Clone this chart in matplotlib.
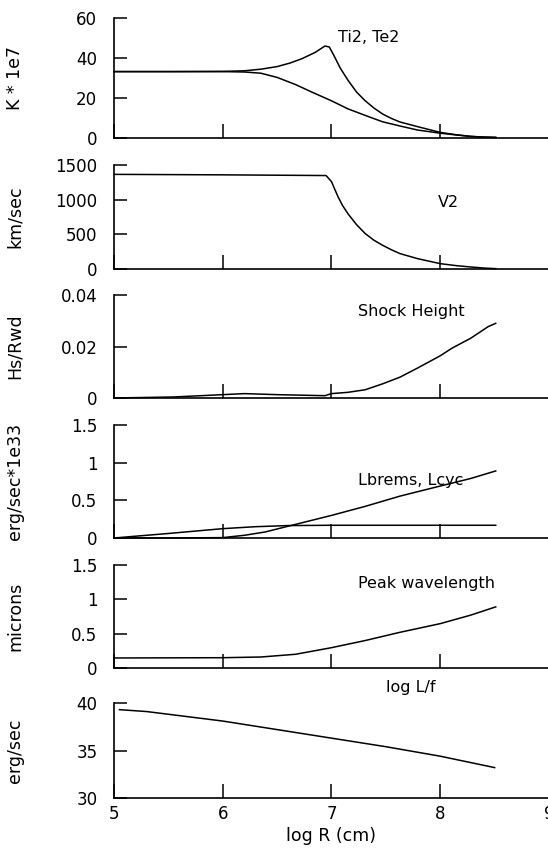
import matplotlib
matplotlib.use("Agg")
import matplotlib.pyplot as plt
import numpy as np

plt.rcParams['font.family'] = ['DejaVu Sans']

# ---- data ----
x_ti = [5.0, 5.5, 6.0, 6.2, 6.35, 6.5, 6.62, 6.73, 6.85, 6.94, 6.98, 7.02, 7.08, 7.15, 7.23, 7.31, 7.39, 7.47, 7.55, 7.63, 7.79, 8.0, 8.15, 8.28, 8.4, 8.51]
ti2 = [33.2, 33.2, 33.3, 33.6, 34.4, 35.7, 37.5, 39.7, 42.8, 46.0, 45.5, 41.5, 35.0, 29.0, 23.0, 18.6, 15.0, 12.0, 9.8, 8.0, 5.7, 2.8, 1.6, 0.8, 0.45, 0.3]
x_te = [5.0, 5.5, 6.0, 6.2, 6.35, 6.5, 6.67, 6.83, 7.0, 7.15, 7.31, 7.47, 7.63, 7.79, 8.0, 8.15, 8.28, 8.4, 8.51]
te2 = [33.2, 33.2, 33.2, 33.0, 32.4, 30.3, 26.7, 22.7, 18.6, 14.6, 11.3, 8.1, 6.0, 4.0, 2.4, 1.5, 0.8, 0.45, 0.3]

x_v = [5.0, 6.0, 6.95, 7.0, 7.03, 7.06, 7.1, 7.15, 7.23, 7.31, 7.39, 7.47, 7.55, 7.63, 7.79, 8.0, 8.15, 8.28, 8.4, 8.51]
v2 = [1365, 1358, 1348, 1260, 1150, 1042, 920, 800, 640, 511, 415, 342, 278, 222, 150, 77, 48, 29, 14, 5]

x_hs = [5.0, 5.55, 6.0, 6.2, 6.5, 6.94, 7.0, 7.15, 7.31, 7.47, 7.63, 7.79, 8.0, 8.11, 8.28, 8.44, 8.51]
hs = [0.0, 0.0004, 0.0013, 0.0017, 0.0013, 0.0009, 0.0017, 0.0022, 0.0032, 0.0055, 0.0081, 0.0116, 0.0164, 0.0194, 0.0232, 0.0277, 0.0290]

x_lb = [5.0, 5.5, 6.0, 6.3, 6.6, 7.0, 7.5, 8.0, 8.51]
lbrems = [0.0, 0.06, 0.124, 0.15, 0.165, 0.169, 0.169, 0.169, 0.169]
x_lc = [5.0, 5.5, 6.0, 6.2, 6.39, 6.6, 7.0, 7.31, 7.63, 8.0, 8.28, 8.51]
lcyc = [0.0, 0.0, 0.005, 0.036, 0.08, 0.156, 0.30, 0.42, 0.556, 0.69, 0.79, 0.89]

x_pw = [5.0, 5.5, 6.0, 6.35, 6.67, 7.0, 7.31, 7.63, 8.0, 8.28, 8.51]
peakw = [0.146, 0.148, 0.15, 0.16, 0.20, 0.296, 0.40, 0.52, 0.646, 0.77, 0.89]

x_lf = [5.05, 5.3, 6.0, 6.5, 7.0, 7.5, 8.0, 8.5]
loglf = [39.3, 39.1, 38.1, 37.2, 36.3, 35.4, 34.4, 33.2]

ylabels = ['K * 1e7', 'km/sec', 'Hs/Rwd', 'erg/sec*1e33', 'microns', 'erg/sec']
yticks = [[0, 20, 40, 60], [0, 500, 1000, 1500], [0, 0.02, 0.04],
          [0, 0.5, 1, 1.5], [0, 0.5, 1, 1.5], [30, 35, 40]]
yticklabels = [['0', '20', '40', '60'], ['0', '500', '1000', '1500'], ['0', '0.02', '0.04'],
               ['0', '0.5', '1', '1.5'], ['0', '0.5', '1', '1.5'], ['30', '35', '40']]
ylims = [(0, 60), (0, 1500), (0, 0.04), (0, 1.5), (0, 1.5), (30, 40)]
xticks = [5, 6, 7, 8, 9]
xticklabels = ['5', '6', '7', '8', '9']
labels = ['Ti2, Te2', 'V2', 'Shock Height', 'Lbrems, Lcyc', 'Peak wavelength', 'log L/f']

# ---- layout (pixels) ----
W, H = 548, 849
fig = plt.figure(figsize=(W / 100, H / 100), dpi=100)
panels_px = [(18, 138), (165, 269), (295, 398), (425, 538), (565, 668), (703, 798)]
left_px, right_px = 114, 549

axes = []
for (top, bot) in panels_px:
    ax = fig.add_axes([left_px / W, 1 - bot / H, (right_px - left_px) / W, (bot - top) / H])
    axes.append(ax)

lw = 1.1
series = [
    [(x_ti, ti2), (x_te, te2)],
    [(x_v, v2)],
    [(x_hs, hs)],
    [(x_lb, lbrems), (x_lc, lcyc)],
    [(x_pw, peakw)],
    [(x_lf, loglf)],
]
label_pos = [(7.06, 50.5), (7.98, 960), (7.24, 0.0334), (7.24, 0.76), (7.24, 1.23), (7.5, 41.6)]

for i, ax in enumerate(axes):
    for xs, ys in series[i]:
        ax.plot(xs, ys, color='black', lw=lw, clip_on=False)
    ax.set_xlim(5, 9)
    ax.set_ylim(*ylims[i])
    ax.set_yticks(yticks[i])
    ax.set_yticklabels(yticklabels[i], fontsize=12)
    ax.set_xticks(xticks)
    if i == 5:
        ax.set_xticklabels(xticklabels, fontsize=12)
    else:
        ax.set_xticklabels([])
    for s in ['top', 'right']:
        ax.spines[s].set_visible(False)
    for s in ['left', 'bottom']:
        ax.spines[s].set_linewidth(1.2)
    ax.tick_params(axis='y', direction='in', length=9, width=1.1, pad=12)
    ax.tick_params(axis='x', direction='in', length=10, width=1.1, pad=5)
    ax.set_ylabel(ylabels[i], fontsize=12.5, labelpad=0)
    ax.yaxis.set_label_coords(-0.207, 0.5)
    lx, ly = label_pos[i]
    ax.text(lx, ly, labels[i], fontsize=11.5, ha='left', va='center', clip_on=False)

axes[-1].set_xlabel('log R (cm)', fontsize=12.5, labelpad=3)

fig.savefig('out.png', dpi=100)
